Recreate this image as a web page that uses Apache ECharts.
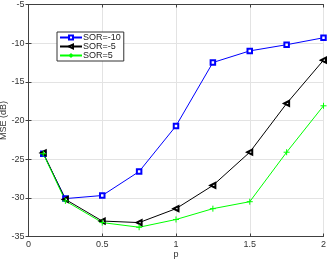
<!DOCTYPE html>
<html><head><meta charset="utf-8">
<script src="https://cdn.jsdelivr.net/npm/echarts@6/dist/echarts.min.js"></script>
<style>html,body{margin:0;padding:0;background:#fff}#c{width:327px;height:259px}</style>
</head><body><div id="c"></div>
<script>
const pValues = [0.1, 0.25, 0.5, 0.75, 1, 1.25, 1.5, 1.75, 2];
const sorM10 = [-24.3, -30.1, -29.7, -26.6, -20.7, -12.5, -11.0, -10.2, -9.3];
const sorM5  = [-24.2, -30.2, -33.0, -33.2, -31.4, -28.4, -24.1, -17.8, -12.2];
const sorP5  = [-24.3, -30.4, -33.2, -33.8, -32.8, -31.4, -30.5, -24.1, -18.1];
const xTicks = [0, 0.5, 1, 1.5, 2];
const yTicks = [-35, -30, -25, -20, -15, -10, -5];

const pair = (ys) => pValues.map((x, i) => [x, ys[i]]);
const font = 'Liberation Sans';
const chart = echarts.init(document.getElementById('c'));
const axisCommon = {
  axisLine: {show: true, lineStyle: {color: '#404040', width: 1}},
  axisTick: {show: true, inside: true, length: 3, lineStyle: {color: '#404040'}},
};
chart.setOption({
  animation: false,
  backgroundColor: '#fff',
  grid: {left: 28.5, right: 3.5, top: 4.5, bottom: 22.5, containLabel: false, outerBoundsMode: 'none'},
  legend: {
    left: 57, top: 32, orient: 'vertical',
    backgroundColor: '#fff', borderColor: '#333', borderWidth: 1, borderRadius: 0,
    padding: [1, 3, 1, 2], itemGap: 0, itemWidth: 22, itemHeight: 5,
    textStyle: {fontFamily: font, fontSize: 9, color: '#222', padding: [0,0,0,-4], lineHeight: 9},
    data: ['SOR=-10', 'SOR=-5', 'SOR=5']
  },
  xAxis: [{
    type: 'value', min: 0, max: 2, interval: 0.5, position: 'bottom',
    ...axisCommon,
    splitLine: {show: true, lineStyle: {color: '#e3e3e3'}},
    axisLabel: {fontFamily: font, fontSize: 9, color: '#333', margin: 4,
      formatter: v => xTicks.includes(v) ? String(v) : ''},
    name: 'p', nameLocation: 'middle', nameGap: 14, nameMoveOverlap: false,
    nameTextStyle: {fontFamily: font, fontSize: 9, color: '#333'}
  }, {
    type: 'value', min: 0, max: 2, interval: 0.5, position: 'top',
    ...axisCommon, axisLabel: {show: false}, splitLine: {show: false}
  }],
  yAxis: [{
    type: 'value', min: -35, max: -5, interval: 5, position: 'left',
    ...axisCommon,
    splitLine: {show: true, lineStyle: {color: '#e3e3e3'}},
    axisLabel: {fontFamily: font, fontSize: 9, color: '#333', margin: 4,
      formatter: v => yTicks.includes(v) ? String(v) : ''},
    name: 'MSE (dB)', nameLocation: 'middle', nameGap: 20, nameMoveOverlap: false,
    nameTextStyle: {fontFamily: font, fontSize: 9, color: '#333'}
  }, {
    type: 'value', min: -35, max: -5, interval: 5, position: 'right',
    ...axisCommon, axisLabel: {show: false}, splitLine: {show: false}
  }],
  series: [{
    name: 'SOR=-10', type: 'line', data: pair(sorM10),
    symbol: 'emptyRect', symbolSize: 4.5,
    lineStyle: {color: '#0000ff', width: 1},
    itemStyle: {color: '#0000ff', borderColor: '#0000ff', borderWidth: 1}
  }, {
    name: 'SOR=-5', type: 'line', data: pair(sorM5),
    symbol: 'emptyTriangle', symbolSize: 5, symbolRotate: 90,
    lineStyle: {color: '#000000', width: 1},
    itemStyle: {color: '#000000', borderColor: '#000000', borderWidth: 1}
  }, {
    name: 'SOR=5', type: 'line', data: pair(sorP5),
    symbol: 'path://M0,5L10,5M5,0L5,10', symbolSize: 6,
    lineStyle: {color: '#00ff00', width: 1},
    itemStyle: {color: '#00ff00', borderColor: '#00ff00', borderWidth: 1}
  }]
});
</script></body></html>
